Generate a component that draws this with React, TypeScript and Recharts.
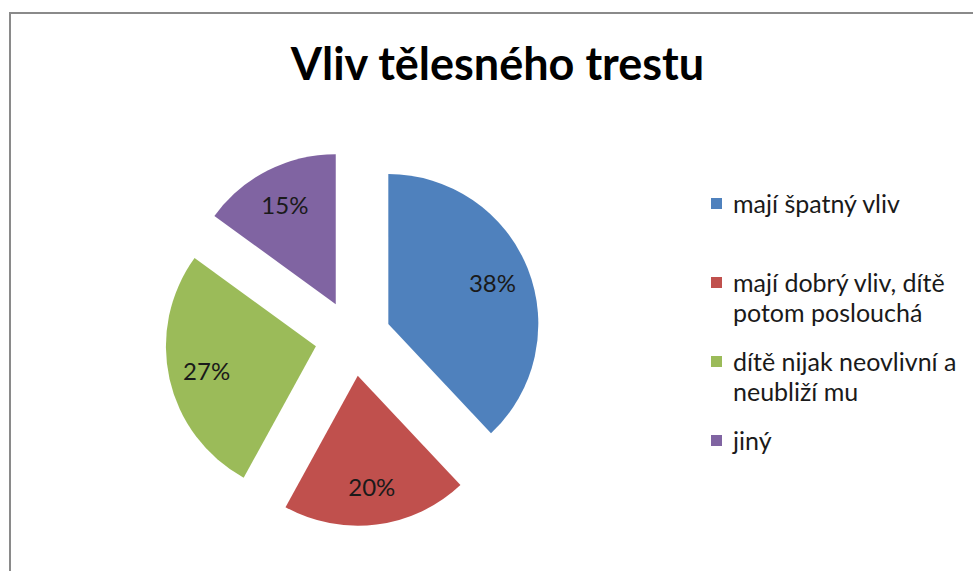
import React from "react";
import { PieChart, Pie, Cell, Legend, Sector } from "recharts";

const categories = [
  "mají špatný vliv",
  "mají dobrý vliv, dítě potom poslouchá",
  "dítě nijak neovlivní a neubliží mu",
  "jiný",
];
const shares = [38, 20, 27, 15];
const colors = ["#4F81BD", "#C0504D", "#9BBB59", "#8064A2"];

const data = categories.map((name, i) => ({ name, value: shares[i] }));

const RADIAN = Math.PI / 180;
const EXPLODE = 38;
const LABEL_R = 112;
const FONT = "Lato, 'Open Sans', sans-serif";

const shift = (midAngle: number, r: number) => ({
  dx: r * Math.cos(-midAngle * RADIAN),
  dy: r * Math.sin(-midAngle * RADIAN),
});

const ExplodedSlice = (props: any) => {
  const { dx, dy } = shift(props.midAngle, EXPLODE);
  return (
    <Sector
      cx={props.cx + dx}
      cy={props.cy + dy}
      innerRadius={props.innerRadius}
      outerRadius={props.outerRadius}
      startAngle={props.startAngle}
      endAngle={props.endAngle}
      fill={props.fill}
      stroke="none"
    />
  );
};

const renderLabel = (props: any) => {
  const { cx, cy, midAngle, percent } = props;
  const { dx, dy } = shift(midAngle, EXPLODE + LABEL_R);
  return (
    <text
      x={cx + dx}
      y={cy + dy}
      textAnchor="middle"
      dominantBaseline="central"
      fill="#1a1a1a"
      fontSize={24}
      fontFamily={FONT}
    >
      {Math.round(percent * 100)}%
    </text>
  );
};

const renderLegend = (props: any) => {
  const { payload } = props;
  const ordered = [...payload].sort(
    (a: any, b: any) => categories.indexOf(a.value) - categories.indexOf(b.value)
  );
  return (
    <div style={{ fontFamily: FONT, fontSize: 25, color: "#1a1a1a" }}>
      {ordered.map((entry: any, i: number) => (
        <div
          key={i}
          style={{ position: "relative", height: 79, paddingLeft: 22, lineHeight: "30px" }}
        >
          <span
            style={{
              position: "absolute",
              left: 0,
              top: 10,
              width: 11,
              height: 11,
              background: entry.color,
            }}
          />
          {entry.value}
        </div>
      ))}
    </div>
  );
};

export default function App() {
  return (
    <div
      style={{
        position: "absolute",
        left: 0,
        top: 0,
        width: 973,
        height: 571,
        overflow: "hidden",
        background: "#fff",
      }}
    >
      <div
        style={{
          position: "absolute",
          left: 9,
          top: 12,
          width: 1000,
          height: 600,
          border: "2px solid #8a8a8a",
        }}
      />
      <div
        style={{
          position: "absolute",
          left: 0,
          top: 38,
          width: 995,
          textAlign: "center",
          fontFamily: FONT,
          fontWeight: "bold",
          fontSize: 45,
          color: "#000",
          lineHeight: "50px",
        }}
      >
        Vliv tělesného trestu
      </div>
      <div style={{ position: "absolute", left: 0, top: 0 }}>
        <PieChart width={973} height={571} margin={{ top: 0, right: 0, bottom: 0, left: 0 }}>
          <Pie
            data={data}
            dataKey="value"
            nameKey="name"
            cx={353}
            cy={338}
            outerRadius={150}
            startAngle={90}
            endAngle={-270}
            stroke="none"
            labelLine={false}
            label={renderLabel}
            shape={ExplodedSlice}
            isAnimationActive={false}
          >
            {data.map((d, i) => (
              <Cell key={d.name} fill={colors[i]} />
            ))}
          </Pie>
          <Legend
            layout="vertical"
            content={renderLegend}
            wrapperStyle={{ left: 711, top: 188, width: 250 }}
          />
        </PieChart>
      </div>
    </div>
  );
}
